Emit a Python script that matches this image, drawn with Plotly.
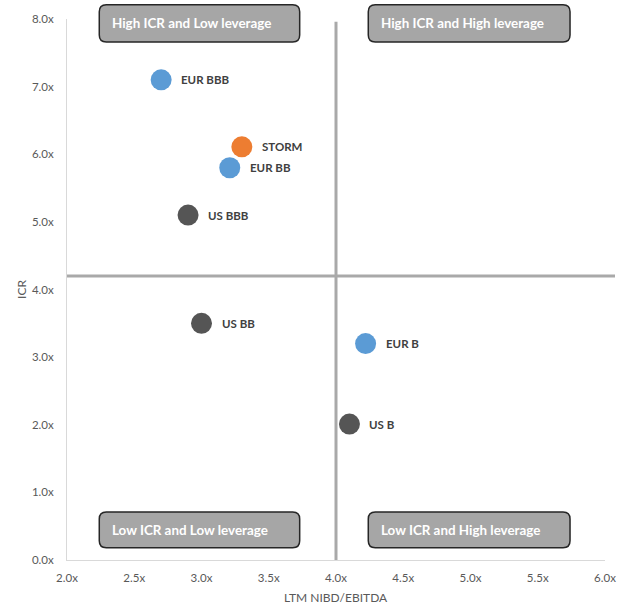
import plotly.graph_objects as go

# Leverage (LTM NIBD/EBITDA) vs interest cover (ICR) by peer group
names = ["EUR BBB", "STORM", "EUR BB", "US BBB", "US BB", "EUR B", "US B"]
leverage = [2.70, 3.30, 3.21, 2.90, 3.00, 4.22, 4.10]
icr = [7.10, 6.11, 5.80, 5.10, 3.50, 3.20, 2.01]
groups = ["EUR", "STORM", "EUR", "US", "US", "EUR", "US"]

group_colors = {"EUR": "#5B9BD5", "STORM": "#ED7D31", "US": "#555555"}

# Quadrant split and axis extents
x_split = 4.0
y_split = 4.2
x_range = [2.0, 6.0]
y_range = [0.0, 8.0]

# Quadrant captions: (text, x0, x1, y0, y1) in data units
quadrants = [
    ("High ICR and Low leverage", 2.24, 3.73, 7.66, 8.21),
    ("High ICR and High leverage", 4.24, 5.74, 7.66, 8.21),
    ("Low ICR and Low leverage", 2.24, 3.73, 0.18, 0.71),
    ("Low ICR and High leverage", 4.24, 5.74, 0.18, 0.71),
]

W, H = 635, 605
ML, MR, MT, MB = 67, 30, 19, 45
PW, PH = W - ML - MR, H - MT - MB


def px(v):
    return (v - x_range[0]) / (x_range[1] - x_range[0])


def py(v):
    return (v - y_range[0]) / (y_range[1] - y_range[0])


FONT = "Lato"

fig = go.Figure()
fig.add_trace(go.Scatter(
    x=leverage, y=icr, mode="markers",
    marker=dict(size=21, color=[group_colors[g] for g in groups], line=dict(width=0)),
    hovertext=names, hoverinfo="text", showlegend=False, cliponaxis=False,
))

annotations = []
for n, xv, yv in zip(names, leverage, icr):
    annotations.append(dict(
        x=xv, y=yv, xref="x", yref="y", text=f"<b>{n}</b>", showarrow=False,
        xanchor="left", yanchor="middle", xshift=18,
        font=dict(family=FONT, size=11.5, color="#404040"),
    ))

# x-axis title placed below the tick labels
annotations.append(dict(
    x=0.5, y=0, xref="paper", yref="paper", text="LTM NIBD/EBITDA", showarrow=False,
    xanchor="center", yanchor="middle", yshift=-37,
    font=dict(family=FONT, size=12, color="#595959"),
))

shapes = [
    # quadrant dividers
    dict(type="line", xref="paper", yref="paper",
         x0=px(x_split), x1=px(x_split), y0=0, y1=py(7.96),
         line=dict(color="#A9A9A9", width=3), layer="below"),
    dict(type="line", xref="paper", yref="paper",
         x0=0, x1=1 + 10 / PW, y0=py(y_split), y1=py(y_split),
         line=dict(color="#A9A9A9", width=3), layer="below"),
]

rx, ry = 7 / PW, 7 / PH
for text, x0, x1, y0, y1 in quadrants:
    a, b, c, d = px(x0), px(x1), py(y0), py(y1)
    path = (f"M {a + rx} {c} L {b - rx} {c} Q {b} {c} {b} {c + ry} "
            f"L {b} {d - ry} Q {b} {d} {b - rx} {d} "
            f"L {a + rx} {d} Q {a} {d} {a} {d - ry} "
            f"L {a} {c + ry} Q {a} {c} {a + rx} {c} Z")
    shapes.append(dict(type="path", xref="paper", yref="paper", path=path,
                       fillcolor="#A6A6A6", line=dict(color="#262626", width=1.5),
                       layer="above"))
    annotations.append(dict(
        x=a, y=(c + d) / 2, xref="paper", yref="paper", text=f"<b>{text}</b>",
        showarrow=False, xanchor="left", yanchor="middle", xshift=11,
        font=dict(family=FONT, size=13.4, color="#FFFFFF"),
    ))

axis_common = dict(
    showgrid=False, zeroline=False, showline=True, linecolor="#D9D9D9", linewidth=1,
    ticks="", tickformat=".1f", ticksuffix="x", automargin=False,
    tickfont=dict(family=FONT, size=11.5, color="#595959"),
    title_font=dict(family=FONT, size=12, color="#595959"),
)

fig.update_layout(
    width=W, height=H, margin=dict(l=ML, r=MR, t=MT, b=MB),
    paper_bgcolor="white", plot_bgcolor="white",
    xaxis=dict(range=x_range, dtick=0.5, ticklabelstandoff=7, **axis_common),
    yaxis=dict(range=y_range, dtick=1.0, title_text="ICR",
               title_standoff=2, ticklabelstandoff=10, **axis_common),
    shapes=shapes, annotations=annotations,
)

fig.write_html("out.html")
